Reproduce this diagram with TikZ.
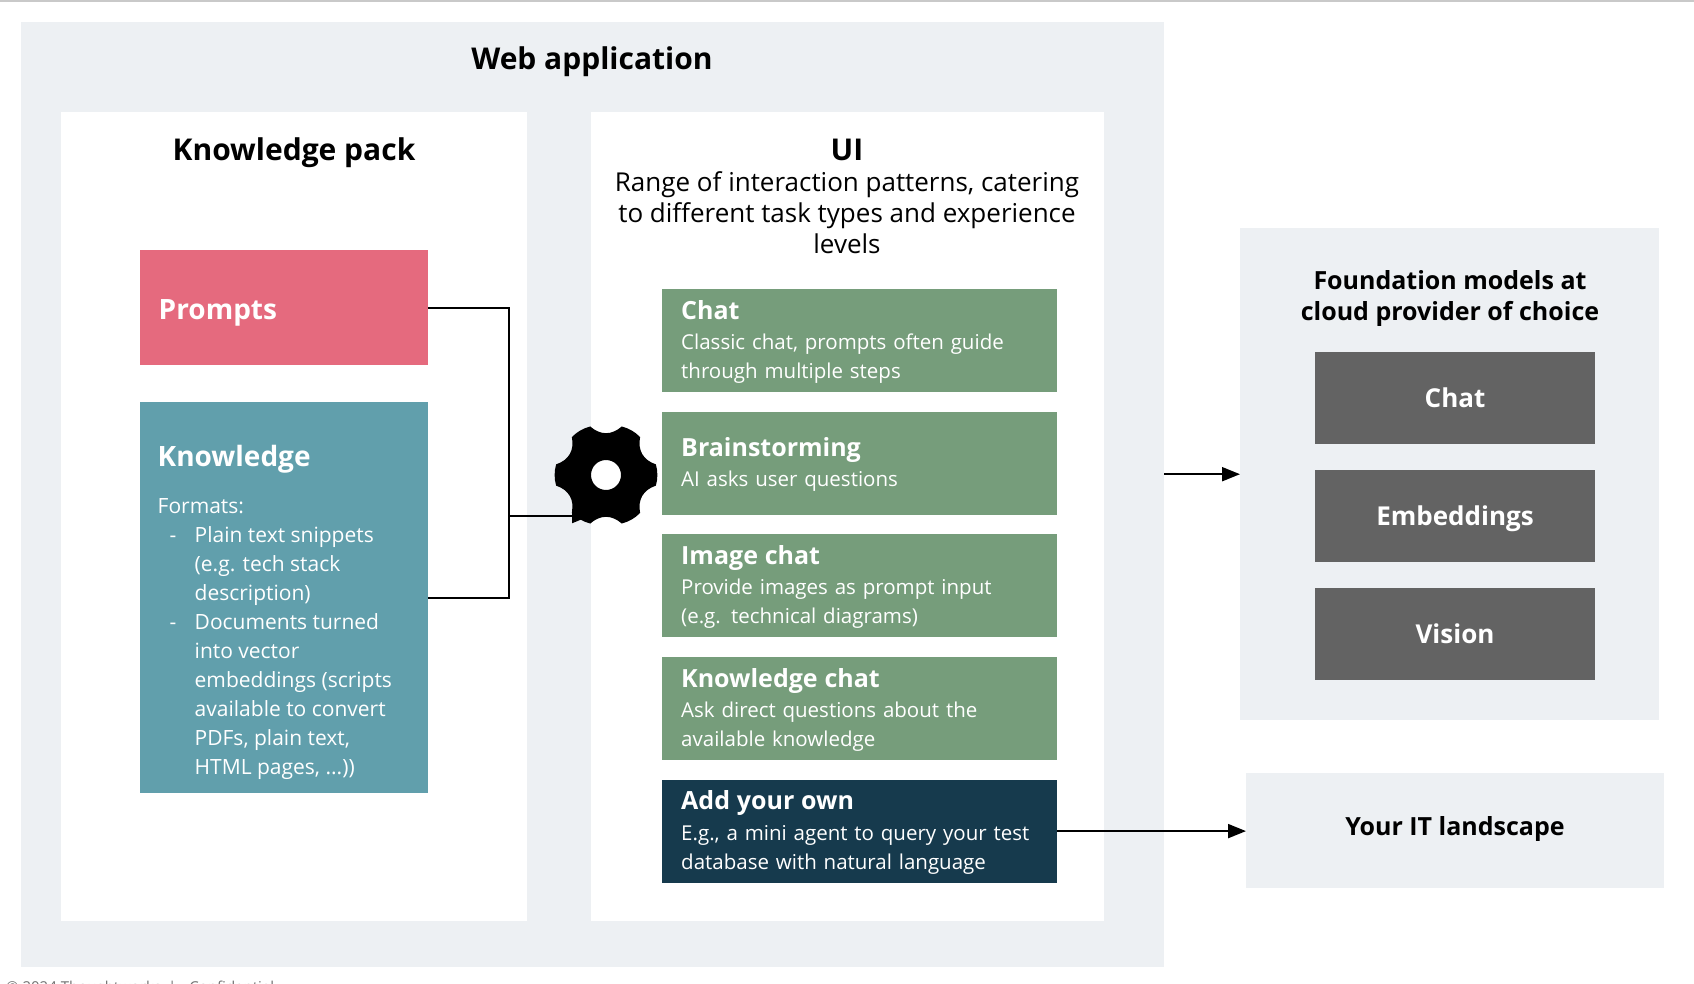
\documentclass[tikz,border=0pt]{standalone}
\usepackage{fontspec}
\setmainfont{Open Sans}
\usetikzlibrary{positioning,arrows.meta}

\definecolor{panelGray}{HTML}{EDF0F3}
\definecolor{promptPink}{HTML}{E56A7E}
\definecolor{knowledgeTeal}{HTML}{619FAC}
\definecolor{patternGreen}{HTML}{769D7B}
\definecolor{ownNavy}{HTML}{163A4D}
\definecolor{modelGray}{HTML}{636363}
\definecolor{footGray}{HTML}{707070}
\definecolor{topGray}{HTML}{C9C9C9}

\newcommand{\bigtitle}{\fontsize{30}{38}\selectfont\bfseries}
\newcommand{\sidetitle}{\fontsize{28}{31}\selectfont\bfseries}
\newcommand{\boxtitle}{\fontsize{25}{31}\selectfont\bfseries}
\newcommand{\boxbody}{\fontsize{20.5}{29}\selectfont}
\newcommand{\listdash}{\makebox[37pt][l]{\hspace*{12pt}-}}
\newcommand{\listmore}{\hspace*{37pt}}
\newcommand{\patterntitle}[1]{{\boxtitle\rule{0pt}{21pt}\raisebox{-0.5pt}{#1}}\\[2pt]}

\tikzset{
    panel/.style={fill=panelGray, anchor=north west, inner sep=0pt},
    whitepanel/.style={fill=white, anchor=north west, inner sep=0pt},
    colorbox/.style={anchor=north west, inner xsep=19pt, inner ysep=0pt, text=white, align=left, text width=#1},
    patternbox/.style={colorbox=357pt, fill=patternGreen, minimum height=103pt, font=\boxbody},
    modelbox/.style={fill=modelGray, text=white, minimum width=280pt, minimum height=92pt, inner sep=0pt, text height=19pt, text depth=0pt, font=\fontsize{26}{31}\selectfont\bfseries},
    wire/.style={line width=2pt},
    flow/.style={line width=2pt, -{Triangle[length=18pt,width=14pt]}},
}

\begin{document}
\begin{tikzpicture}[x=1pt, y=-1pt, node distance=19.2pt]
    \useasboundingbox (0,0) rectangle (1694,984);
    \fill[topGray] (0,0) rectangle (1694,2);

    % web application
    \node[panel, minimum width=1143pt, minimum height=945pt] (web) at (21,21.5) {};
    \node[font=\bigtitle] (webTitle) at (592,62) {Web application};
    \node[whitepanel, minimum width=466pt, minimum height=809pt] (pack) at (60.5,112) {};
    \node[font=\bigtitle] (packTitle) at (294,153) {Knowledge pack};
    \node[whitepanel, minimum width=513pt, minimum height=809pt] (ui) at (591,112) {};
    \node[font=\bigtitle] (uiTitle) at (847,150) {UI};
    \node[below = 0pt of uiTitle, yshift=-4pt, align=center, font=\fontsize{26}{31}\selectfont] (uiText) {Range of interaction patterns, catering\\to different task types and experience\\levels};

    % knowledge pack
    \node[colorbox=250pt, fill=promptPink, minimum height=115pt, font=\sidetitle] (prompts) at (139.5,250) {\rule{0pt}{30pt}Prompts};
    \node[colorbox=250pt, fill=knowledgeTeal, minimum height=391pt] (knowledge) at (139.5,402) {};
    \node[anchor=north west, inner sep=0pt, text=white, align=left, font=\boxbody\fontsize{21}{29}\selectfont] (knowledgeText) at (157.5,444.6) {{\sidetitle Knowledge}\\[18.8pt]
        Formats:\\
        \listdash Plain text snippets\\
        \listmore (e.g. tech stack\\
        \listmore description)\\
        \listdash Documents turned\\
        \listmore into vector\\
        \listmore embeddings (scripts\\
        \listmore available to convert\\
        \listmore PDFs, plain text,\\
        \listmore HTML pages, ...))};

    % interaction patterns
    \node[patternbox] (chat) at (662,289) {\patterntitle{Chat}Classic chat, prompts often guide\\through multiple steps};
    \node[patternbox, below = of chat] (brainstorming) {\patterntitle{Brainstorming}AI asks user questions};
    \node[patternbox, below = of brainstorming] (imageChat) {\patterntitle{Image chat}Provide images as prompt input\\(e.g. technical diagrams)};
    \node[patternbox, below = of imageChat] (knowledgeChat) {\patterntitle{Knowledge chat}Ask direct questions about the\\available knowledge};
    \node[patternbox, below = of knowledgeChat, fill=ownNavy] (ownBox) {\patterntitle{Add your own}E.g., a mini agent to query your test\\database with natural language};

    % foundation models
    \node[panel, minimum width=419pt, minimum height=492pt] (models) at (1240,228) {};
    \node[align=center, font=\boxtitle] (modelsTitle) at (1450,299) {Foundation models at\\cloud provider of choice};
    \node[modelbox] (modelChat) at (1455,398) {Chat};
    \node[modelbox, below = 25.4pt of modelChat] (modelEmbeddings) {Embeddings};
    \node[modelbox, below = 25.4pt of modelEmbeddings] (modelVision) {Vision};
    \node[panel, minimum width=418pt, minimum height=115pt] (landscape) at (1246,773) {};
    \node[font=\boxtitle] (landscapeTitle) at (1455,829) {Your IT landscape};

    % connectors
    \coordinate (bus) at (509,516);
    \coordinate (gearIn) at (590,516);
    \coordinate (gearCenter) at (606,475);
    \draw[wire] (prompts.east) -| (bus);
    \draw[wire] (knowledge.east) -| (bus);
    \draw[flow] (bus) -- (gearIn);
    \draw[flow] (web.east |- models.west) -- (models.west);
    \draw[flow] (ownBox.east) -- (ownBox.east -| landscape.west);

    % gear
    \begin{scope}[shift={(gearCenter)}]
        \fill[even odd rule] (-12:51) foreach \k in {0,...,5} {
            .. controls (\k*60-4:52) and (\k*60+4:52) .. (\k*60+12:51)
            .. controls (\k*60+22:40) and (\k*60+38:40) .. (\k*60+48:51)
        } -- cycle (0,0) circle (15);
    \end{scope}

    % footer, cut off by the page edge
    \node[anchor=north west, inner sep=0pt, text=footGray, font=\fontsize{15}{16}\selectfont] (footer) at (6,981) {© 2024 Thoughtworks\hspace{7pt}|\hspace{13pt}Confidential};
\end{tikzpicture}
\end{document}
